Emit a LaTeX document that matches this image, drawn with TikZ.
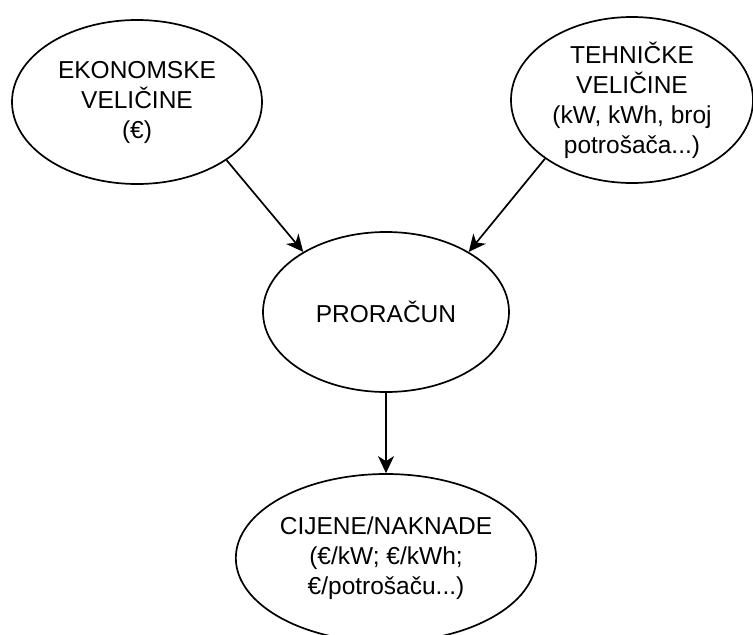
\documentclass[tikz,border=0pt]{standalone}
\usepackage{fontspec}
\setmainfont{Liberation Sans}
\usetikzlibrary{shapes.geometric,arrows.meta}
\begin{document}
\begin{tikzpicture}[x=1pt,y=-1pt,
  bubble/.style={ellipse,draw,line width=1.7pt,inner sep=0pt,align=center,
    font=\fontsize{24.5}{30}\selectfont},
  link/.style={line width=1.7pt,-{Stealth[length=17pt,width=16pt,inset=5pt]}}]
\useasboundingbox (0,0) rectangle (753,635);
\clip (0,0) rectangle (753,635);
\node[bubble,minimum width=250pt,minimum height=164pt] (eko) at (137,102) {EKONOMSKE\\VELIČINE\\(€)};
\node[bubble,minimum width=242pt,minimum height=166pt] (teh) at (632,100) {TEHNIČKE\\VELIČINE\\(kW, kWh, broj\\potrošača...)};
\node[bubble,minimum width=246pt,minimum height=160pt] (pro) at (386,312) {PRORAČUN};
\node[bubble,minimum width=250pt,minimum height=168pt] (cij) at (386,558) {CIJENE/NAKNADE\\(€/kW; €/kWh;\\€/potrošaču...)};
\draw[link] (eko.-33) -- (pro.144);
\draw[link] (teh.-146) -- (pro.36);
\draw[link] (pro.south) -- (cij.north);
\end{tikzpicture}
\end{document}
